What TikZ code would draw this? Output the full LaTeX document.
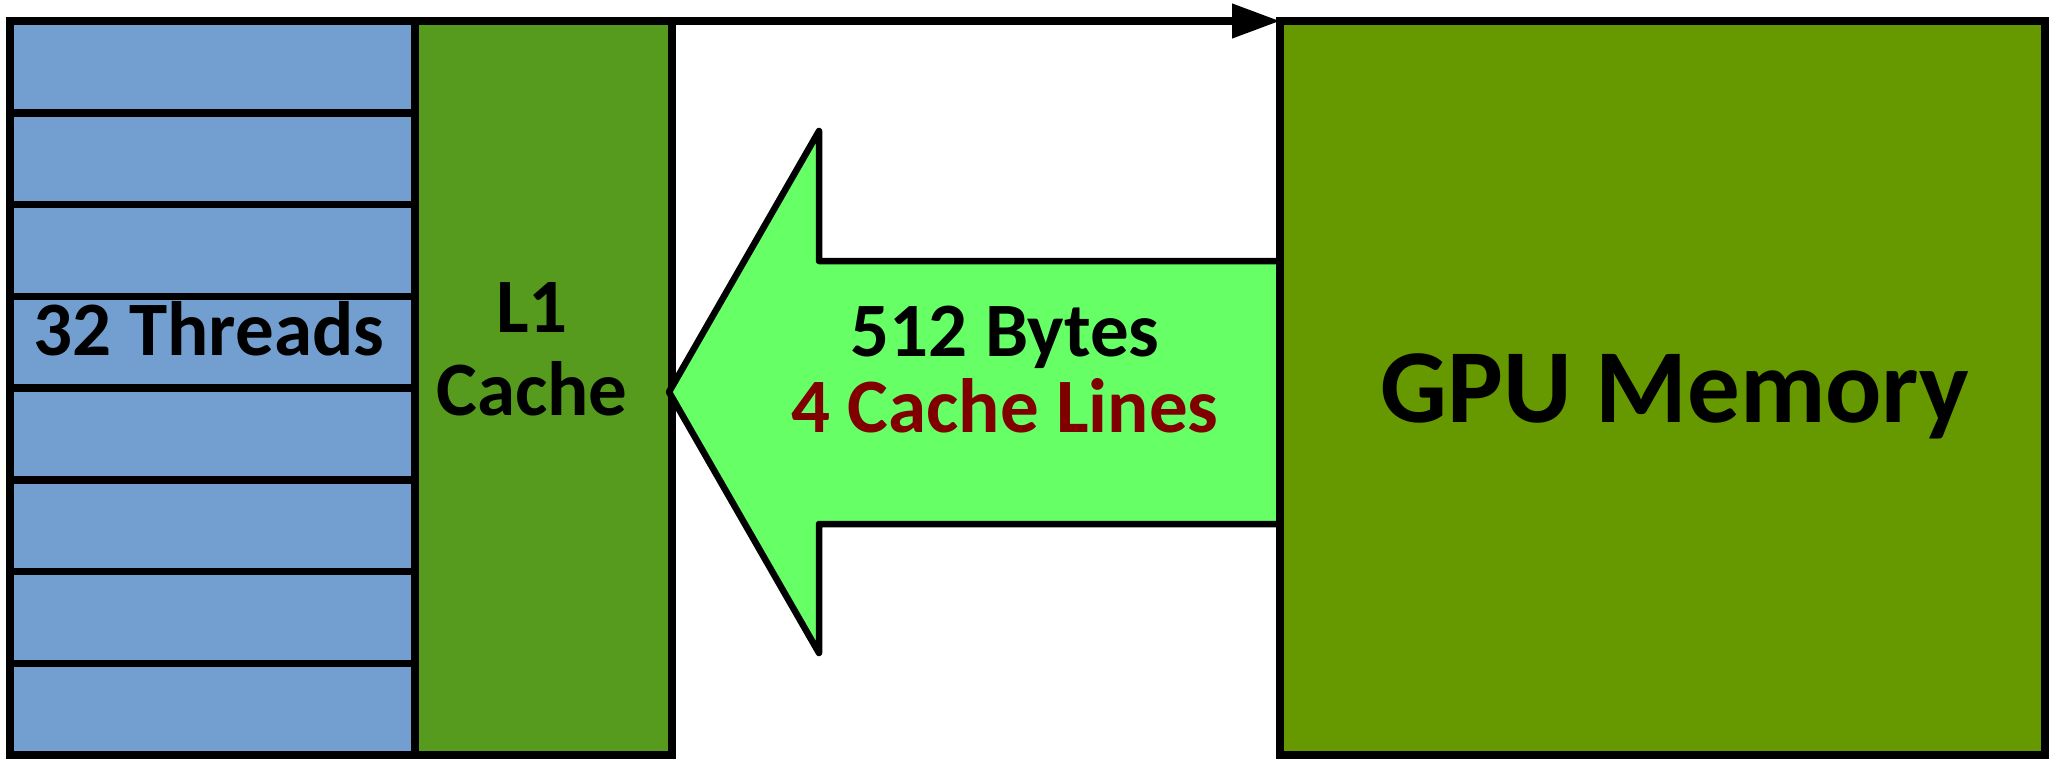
\documentclass[tikz,border=0pt]{standalone}
\usepackage{fontspec}
\setmainfont{Carlito}
\usetikzlibrary{arrows.meta}
\definecolor{threadblue}{RGB}{114,159,207}
\definecolor{lonegreen}{RGB}{86,155,29}
\definecolor{gpugreen}{RGB}{102,153,0}
\definecolor{arrowgreen}{RGB}{102,255,102}
\definecolor{darkred}{RGB}{128,0,0}
\begin{document}
\begin{tikzpicture}[x=1pt,y=-1pt,
  box/.style={draw=black, line width=7.5pt, rectangle, inner sep=0pt, outer sep=0pt},
  lbl/.style={font=\fontsize{77}{83}\selectfont\bfseries, inner sep=0pt, align=center},
  biglbl/.style={font=\fontsize{105}{110}\selectfont\bfseries, inner sep=0pt}]
\useasboundingbox (0,0) rectangle (2049,758);
% thread rows
\foreach \i in {0,...,7}
  \node[box, fill=threadblue, minimum width=405pt, minimum height=91.75pt] (t\i) at (212.5,{66.875+91.75*\i}) {};
% L1 cache
\node[box, fill=lonegreen, minimum width=257pt, minimum height=734pt] (l1) at (543.5,388) {};
% big arrow
\draw[fill=arrowgreen, line width=6.5pt, line join=round]
  (669,392) -- (819,131) -- (819,261) -- (1280,261) -- (1280,524) -- (819,524) -- (819,653) -- cycle;
% GPU memory
\node[box, fill=gpugreen, minimum width=765pt, minimum height=734pt] (gpu) at (1662.5,388) {};
% top arrow
\draw[line width=7.5pt, -{Triangle[length=48pt,width=33pt]}] (l1.north east) -- (gpu.north west);
% labels
\node[lbl, anchor=base] (threadstxt) at (209,355) {32 Threads};
\node[lbl] (l1txt) at (532,349) {L1\\Cache};
\node[lbl, font=\fontsize{77}{76}\selectfont\bfseries] (bytestxt) at (1005,370) {512 Bytes\\\textcolor{darkred}{4 Cache Lines}};
\node[biglbl, anchor=base] (gputxt) at (1675,422) {GPU Memory};
\end{tikzpicture}
\end{document}
